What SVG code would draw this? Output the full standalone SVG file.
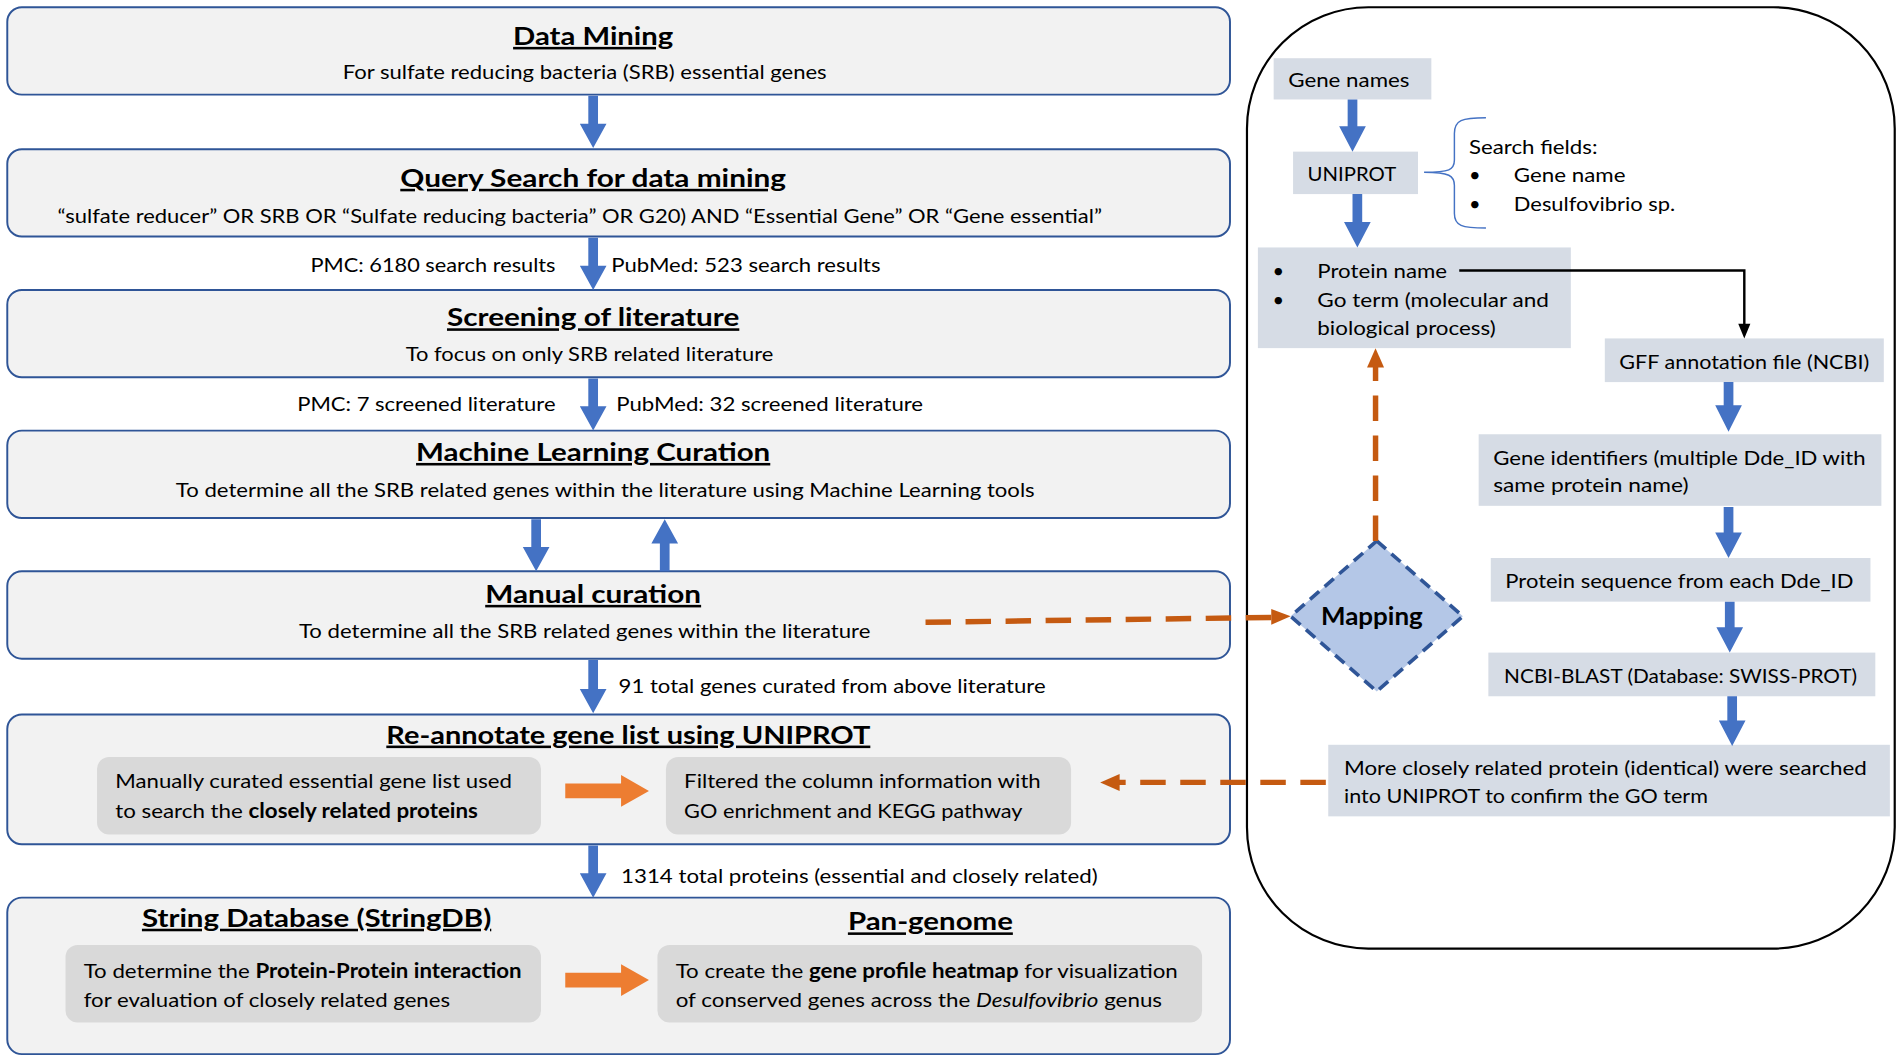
<svg xmlns="http://www.w3.org/2000/svg" width="1902" height="1062" viewBox="0 0 1902 1062">
<style>
.box{fill:#f2f2f2;stroke:#2f5597;stroke-width:1.6}
.inner{fill:#d9d9d9}
.rbox{fill:#d6dce5}
.t{font-family:Lato,"Open Sans","Liberation Sans",sans-serif;font-size:16.5px;fill:#000}
.h{font-family:Lato,"Open Sans","Liberation Sans",sans-serif;font-size:21px;font-weight:bold;fill:#000;text-decoration:underline}
.c{text-anchor:middle}
.blue{fill:#4472c4}
.orange{fill:#ed7d31}
.dash{fill:none;stroke:#c55a11;stroke-width:4.5;stroke-dasharray:21 12}
.dhead{fill:#c55a11}
</style>
<rect width="1902" height="1062" fill="#ffffff"/>
<g transform="scale(1.21301)">
<rect id="container" x="1028" y="6" width="534" height="776" rx="100" ry="100" fill="none" stroke="#000" stroke-width="1.8"/>

<g id="data-mining">
  <rect class="box" x="6" y="6" width="1008" height="72" rx="12"/>
  <text class="h c" x="489" y="37" textLength="132" lengthAdjust="spacingAndGlyphs">Data Mining</text>
  <text class="t c" x="482" y="65" textLength="399" lengthAdjust="spacingAndGlyphs">For sulfate reducing bacteria (SRB) essential genes</text>
</g>
<g id="query-search">
  <rect class="box" x="6" y="123" width="1008" height="72" rx="12"/>
  <text class="h c" x="489" y="154" textLength="318" lengthAdjust="spacingAndGlyphs">Query Search for data mining</text>
  <text class="t c" x="478" y="184" textLength="861" lengthAdjust="spacingAndGlyphs">“sulfate reducer” OR SRB OR “Sulfate reducing bacteria” OR G20) AND “Essential Gene” OR “Gene essential”</text>
</g>
<g id="labels-1">
  <text class="t" x="458" y="224" text-anchor="end" textLength="202" lengthAdjust="spacingAndGlyphs">PMC: 6180 search results</text>
  <text class="t" x="504" y="224" textLength="222" lengthAdjust="spacingAndGlyphs">PubMed: 523 search results</text>
</g>
<g id="screening">
  <rect class="box" x="6" y="239" width="1008" height="72" rx="12"/>
  <text class="h c" x="489" y="269" textLength="241" lengthAdjust="spacingAndGlyphs">Screening of literature</text>
  <text class="t c" x="486" y="298" textLength="303" lengthAdjust="spacingAndGlyphs">To focus on only SRB related literature</text>
</g>
<g id="labels-2">
  <text class="t" x="458" y="339" text-anchor="end" textLength="213" lengthAdjust="spacingAndGlyphs">PMC: 7 screened literature</text>
  <text class="t" x="508" y="339" textLength="253" lengthAdjust="spacingAndGlyphs">PubMed: 32 screened literature</text>
</g>
<g id="ml-curation">
  <rect class="box" x="6" y="355" width="1008" height="72" rx="12"/>
  <text class="h c" x="489" y="380" textLength="292" lengthAdjust="spacingAndGlyphs">Machine Learning Curation</text>
  <text class="t c" x="499" y="410" textLength="708" lengthAdjust="spacingAndGlyphs">To determine all the SRB related genes within the literature using Machine Learning tools</text>
</g>
<g id="manual-curation">
  <rect class="box" x="6" y="471" width="1008" height="72" rx="12"/>
  <text class="h c" x="489" y="497" textLength="178" lengthAdjust="spacingAndGlyphs">Manual curation</text>
  <text class="t c" x="482" y="526" textLength="471" lengthAdjust="spacingAndGlyphs">To determine all the SRB related genes within the literature</text>
</g>
<g id="label-3">
  <text class="t" x="510" y="571" textLength="352" lengthAdjust="spacingAndGlyphs">91 total genes curated from above literature</text>
</g>
<g id="re-annotate">
  <rect class="box" x="6" y="589" width="1008" height="107" rx="12"/>
  <text class="h c" x="518" y="613" textLength="399" lengthAdjust="spacingAndGlyphs">Re-annotate gene list using UNIPROT</text>
  <rect class="inner" x="80" y="624" width="366" height="64" rx="10"/>
  <text class="t" x="95" y="650" textLength="327" lengthAdjust="spacingAndGlyphs">Manually curated essential gene list used</text>
  <text class="t" x="95" y="674" textLength="299" lengthAdjust="spacingAndGlyphs">to search the <tspan font-weight="bold">closely related proteins</tspan></text>
  <rect class="inner" x="549" y="624" width="334" height="64" rx="10"/>
  <text class="t" x="564" y="650" textLength="294" lengthAdjust="spacingAndGlyphs">Filtered the column information with</text>
  <text class="t" x="564" y="674" textLength="279" lengthAdjust="spacingAndGlyphs">GO enrichment and KEGG pathway</text>
</g>
<g id="label-4">
  <text class="t" x="512" y="728" textLength="393" lengthAdjust="spacingAndGlyphs">1314 total proteins (essential and closely related)</text>
</g>
<g id="stringdb-pangenome">
  <rect class="box" x="6" y="740" width="1008" height="129" rx="12"/>
  <text class="h c" x="261" y="764" textLength="288" lengthAdjust="spacingAndGlyphs">String Database (StringDB)</text>
  <text class="h c" x="767" y="767" textLength="136" lengthAdjust="spacingAndGlyphs">Pan-genome</text>
  <rect class="inner" x="54" y="779" width="392" height="64" rx="10"/>
  <text class="t" x="69" y="806" textLength="361" lengthAdjust="spacingAndGlyphs">To determine the <tspan font-weight="bold">Protein-Protein interaction</tspan></text>
  <text class="t" x="69" y="830" textLength="302" lengthAdjust="spacingAndGlyphs">for evaluation of closely related genes</text>
  <rect class="inner" x="542" y="779" width="449" height="64" rx="10"/>
  <text class="t" x="557" y="806" textLength="414" lengthAdjust="spacingAndGlyphs">To create the <tspan font-weight="bold">gene profile heatmap</tspan> for visualization</text>
  <text class="t" x="557" y="830" textLength="401" lengthAdjust="spacingAndGlyphs">of conserved genes across the <tspan font-style="italic">Desulfovibrio</tspan> genus</text>
</g>

<g id="gene-names">
  <rect class="rbox" x="1050" y="48" width="130" height="34"/>
  <text class="t" x="1062" y="72" textLength="100" lengthAdjust="spacingAndGlyphs">Gene names</text>
</g>
<g id="uniprot">
  <rect class="rbox" x="1066" y="125" width="103" height="35"/>
  <text class="t" x="1078" y="149" textLength="73" lengthAdjust="spacingAndGlyphs">UNIPROT</text>
</g>
<g id="search-fields">
  <text class="t" x="1211" y="127" textLength="106" lengthAdjust="spacingAndGlyphs">Search fields:</text>
  <text class="t" x="1211" y="150">•</text>
  <text class="t" x="1248" y="150" textLength="92" lengthAdjust="spacingAndGlyphs">Gene name</text>
  <text class="t" x="1211" y="174">•</text>
  <text class="t" x="1248" y="174" textLength="133" lengthAdjust="spacingAndGlyphs">Desulfovibrio sp.</text>
</g>
<g id="protein-name">
  <rect class="rbox" x="1037" y="204" width="258" height="83"/>
  <text class="t" x="1049" y="229">•</text>
  <text class="t" x="1086" y="229" textLength="107" lengthAdjust="spacingAndGlyphs">Protein name</text>
  <text class="t" x="1049" y="253">•</text>
  <text class="t" x="1086" y="253" textLength="191" lengthAdjust="spacingAndGlyphs">Go term (molecular and</text>
  <text class="t" x="1086" y="276" textLength="147" lengthAdjust="spacingAndGlyphs">biological process)</text>
</g>
<g id="gff">
  <rect class="rbox" x="1323" y="279" width="230" height="36"/>
  <text class="t" x="1335" y="304" textLength="206" lengthAdjust="spacingAndGlyphs">GFF annotation file (NCBI)</text>
</g>
<g id="gene-identifiers">
  <rect class="rbox" x="1219" y="358" width="332" height="59"/>
  <text class="t" x="1231" y="383" textLength="307" lengthAdjust="spacingAndGlyphs">Gene identifiers (multiple Dde_ID with</text>
  <text class="t" x="1231" y="406" textLength="161" lengthAdjust="spacingAndGlyphs">same protein name)</text>
</g>
<g id="protein-sequence">
  <rect class="rbox" x="1229" y="460" width="313" height="36"/>
  <text class="t" x="1241" y="485" textLength="287" lengthAdjust="spacingAndGlyphs">Protein sequence from each Dde_ID</text>
</g>
<g id="ncbi-blast">
  <rect class="rbox" x="1227" y="538" width="319" height="36"/>
  <text class="t" x="1240" y="563" textLength="291" lengthAdjust="spacingAndGlyphs">NCBI-BLAST (Database: SWISS-PROT)</text>
</g>
<g id="closely-related">
  <rect class="rbox" x="1095" y="614" width="463" height="59"/>
  <text class="t" x="1108" y="639" textLength="431" lengthAdjust="spacingAndGlyphs">More closely related protein (identical) were searched</text>
  <text class="t" x="1108" y="662" textLength="300" lengthAdjust="spacingAndGlyphs">into UNIPROT to confirm the GO term</text>
</g>
<g id="mapping">
  <polygon points="1135,446 1206,508 1135,570 1064,508" fill="#b4c7e7" stroke="#2f5597" stroke-width="3" stroke-dasharray="10 6"/>
  <text x="1131" y="515" text-anchor="middle" font-family="Lato,'Open Sans','Liberation Sans',sans-serif" font-size="20" font-weight="bold" textLength="84" lengthAdjust="spacingAndGlyphs">Mapping</text>
</g>

<g id="connectors">
  <polygon class="blue" points="485,79 493,79 493,102 500,102 489,122 478,102 485,102"/>
  <polygon class="blue" points="485,196 493,196 493,219 500,219 489,239 478,219 485,219"/>
  <polygon class="blue" points="485,312 493,312 493,335 500,335 489,355 478,335 485,335"/>
  <polygon class="blue" points="438,428 446,428 446,451 453,451 442,471 431,451 438,451"/>
  <polygon class="blue" points="544,471 552,471 552,448 559,448 548,428 537,448 544,448"/>
  <polygon class="blue" points="485,544 493,544 493,568 500,568 489,588 478,568 485,568"/>
  <polygon class="blue" points="485,697 493,697 493,720 500,720 489,740 478,720 485,720"/>
  <polygon class="orange" points="466,646 512,646 512,639 535,652 512,665 512,658 466,658"/>
  <polygon class="orange" points="466,802 512,802 512,795 535,808 512,821 512,814 466,814"/>
  <polygon class="blue" points="1111,82 1119,82 1119,104 1126,104 1115,125 1104,104 1111,104"/>
  <polygon class="blue" points="1115,160 1123,160 1123,183 1130,183 1119,204 1108,183 1115,183"/>
  <polygon class="blue" points="1421,315 1429,315 1429,334 1436,334 1425,356 1414,334 1421,334"/>
  <polygon class="blue" points="1421,418 1429,418 1429,439 1436,439 1425,460 1414,439 1421,439"/>
  <polygon class="blue" points="1422,496 1430,496 1430,517 1437,517 1426,538 1415,517 1422,517"/>
  <polygon class="blue" points="1424,574 1432,574 1432,594 1439,594 1428,615 1417,594 1424,594"/>
  <path d="M1225,97 C1205,97 1199,99 1199,110 L1199,132 C1199,140 1195,142 1174,142 C1195,142 1199,145 1199,153 L1199,176 C1199,186 1205,188 1225,188" fill="none" stroke="#4472c4" stroke-width="1.2"/>
  <polyline points="1203,223 1438,223 1438,268" fill="none" stroke="#000" stroke-width="2"/>
  <polygon points="1433,267 1443,267 1438,279" fill="#000"/>
  <line class="dash" x1="763" y1="513" x2="1049" y2="509"/>
  <polygon class="dhead" points="1048,502 1064,508 1048,515"/>
  <line class="dash" x1="1093" y1="645" x2="922" y2="645"/>
  <polygon class="dhead" points="923,638 907,645 923,652"/>
  <line class="dash" x1="1134" y1="446" x2="1134" y2="302"/>
  <polygon class="dhead" points="1127,303 1134,287 1141,303"/>
</g>
</g>
</svg>
